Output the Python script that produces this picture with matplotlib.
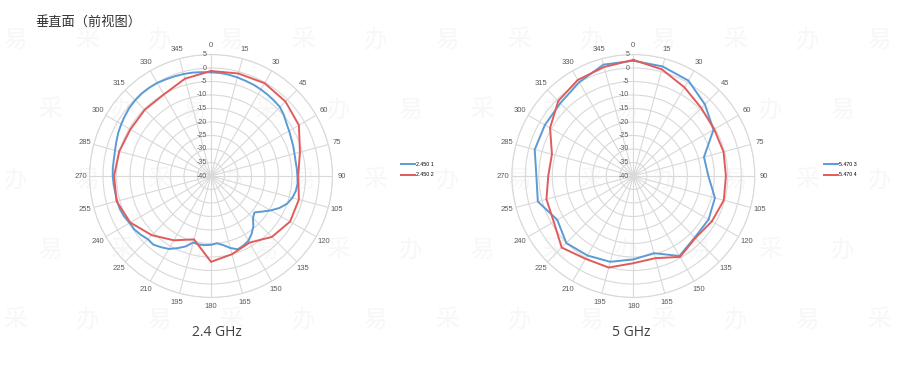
import numpy as np
import matplotlib
matplotlib.use("Agg")
import matplotlib.pyplot as plt
from matplotlib import transforms

plt.rcParams['font.family'] = ['Liberation Sans', 'Noto Sans CJK SC', 'DejaVu Sans']

# ---- data (dB) ----
ang15 = list(range(0, 360, 15))
ang5 = list(range(0, 360, 5))

# 2.4 GHz
s2450_1 = [-1.6, -1.7, -1.9, -2.2, -2.5, -2.7, -3.0, -3.3, -3.6, -3.9, -4.8, -5.9,
           -6.6, -7.2, -7.6, -8.0, -8.2, -8.1, -8.0, -7.8, -8.1, -8.8, -10.0, -12.0,
           -14.5, -17.0, -19.0, -18.0, -15.6, -13.8, -12.3, -11.6, -11.1, -12.4, -14.0, -15.0,
           -14.5, -14.3, -14.2, -14.5, -12.2, -10.5, -8.8, -7.8, -6.8, -6.9, -6.1, -5.4,
           -5.2, -4.5, -4.1, -4.0, -4.0, -3.8, -3.6, -3.5, -3.5, -3.2, -2.7, -2.1,
           -1.6, -1.1, -0.6, -0.3, -0.1, -0.1, -0.2, -0.5, -0.7, -0.9, -1.1, -1.4]
s2450_2 = [-1.1, -0.7, -0.3, -1.0, -2.4, -5.9, -7.7, -6.3, -6.2, -8.1, -11.5, -10.0,
           -8.2, -15.7, -12.5, -9.0, -5.5, -3.8, -4.1, -4.8, -5.5, -5.3, -5.1, -2.7]

# 5 GHz
s5470_3 = [2.7, 2.0, 0.8, -2.5, -5.7, -12.9, -12.2, -8.7, -7.8, -7.8, -5.8, -10.4,
           -9.1, -7.1, -6.0, -4.9, -7.5, -3.4, -4.1, -2.2, -2.2, -1.8, 0.1, 2.7]
s5470_4 = [3.0, 0.9, -2.1, -4.4, -5.4, -5.4, -5.7, -5.3, -6.4, -7.5, -5.4, -8.5,
           -7.7, -4.9, -4.6, -2.5, -6.0, -6.7, -8.5, -8.8, -4.4, -0.7, 1.1, 1.8]

r_ticks = list(range(-40, 6, 5))
blue = '#5B9BD5'
red = '#E05C5C'
grid_c = '#D9D9D9'

W, H = 913, 379
fig = plt.figure(figsize=(W / 100, H / 100), dpi=100)

# very faint background watermark, behind everything
for i, yy in enumerate([40, 110, 180, 250, 320]):
    for k, xx in enumerate(np.arange(15 + (i % 2) * 35, W - 15, 72)):
        fig.text(xx / W, 1 - yy / H, "易采办"[(k + i) % 3], fontsize=17, color='#F7F7F7',
                 family='Noto Sans CJK SC', ha='center', va='center', zorder=-5)


def closed(a, v):
    t = np.deg2rad(list(a) + [a[0]])
    return t, list(v) + [v[0]]


def radar(cx, cy, series, legend_x, sub, sub_x):
    R = 121.5
    ax = fig.add_axes([(cx - R) / W, (H - cy - R) / H, 2 * R / W, 2 * R / H], projection='polar')
    ax.set_theta_zero_location('N')
    ax.set_theta_direction(-1)
    for a, v, c, lab in series:
        t, vv = closed(a, v)
        ax.plot(t, vv, color=c, lw=1.4, label=lab, zorder=3)
    ax.set_ylim(-40, 5)
    ax.set_yticks(r_ticks)
    ax.set_yticklabels([])
    ax.set_thetagrids(ang15, [str(a) for a in ang15], fontsize=5.5, color='#595959')
    ax.tick_params(axis='x', pad=-4)
    ax.grid(color=grid_c, lw=0.8)
    ax.spines['polar'].set_color(grid_c)
    ax.spines['polar'].set_linewidth(0.8)
    ax.set_facecolor('none')
    off = transforms.offset_copy(ax.transData, fig=fig, x=-3, y=0, units='points')
    for v in r_ticks:
        ax.text(0, v, str(v), transform=off, ha='right', va='center', fontsize=5, color='#595959')
    ax.legend(loc='center left', bbox_to_anchor=(legend_x / W, 1 - 169.5 / H),
              bbox_transform=fig.transFigure, frameon=False, fontsize=3.8,
              handlelength=2.7, handletextpad=0.2, labelspacing=1.1, borderpad=0, borderaxespad=0)
    fig.text(sub_x / W, 1 - 333 / H, sub, fontsize=10, color='#404040', ha='center', va='center',
             family='Open Sans')
    return ax


radar(211, 176, [(ang5, s2450_1, blue, '2.450 1'), (ang15, s2450_2, red, '2.450 2')],
      400.5, '2.4 GHz', 217)
radar(633.3, 176, [(ang15, s5470_3, blue, '5.470 3'), (ang15, s5470_4, red, '5.470 4')],
      823.5, '5 GHz', 631)

fig.text(35 / W, 1 - 22 / H, '垂直面（前视图）', fontsize=9.5, color='#333333',
         family='Noto Sans CJK SC', ha='left', va='center')

fig.savefig('out.png', dpi=100)
